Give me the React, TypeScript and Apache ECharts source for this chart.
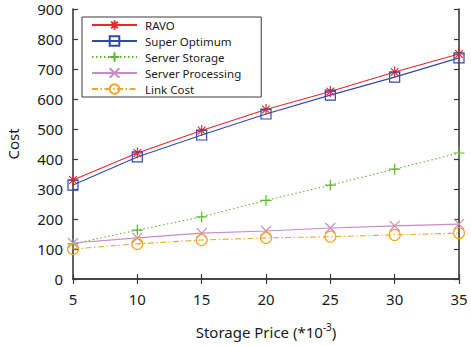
import React, { useEffect, useRef } from "react";
import * as echarts from "echarts";

const storagePrice = [5, 10, 15, 20, 25, 30, 35];
const ravo = [330, 420, 495, 565, 625, 690, 750];
const superOptimum = [313, 407, 480, 550, 613, 673, 737];
const serverStorage = [117, 163, 207, 262, 313, 366, 420];
const serverProcessing = [120, 137, 153, 160, 170, 177, 183];
const linkCost = [100, 117, 130, 137, 141, 147, 153];

const FONT = "Noto Sans";
const FRAME = "#3a3a3a";
const TXT = "#1a1a1a";

const STAR = "path://M0,5L10,5M5,0L5,10M1.5,1.5L8.5,8.5M1.5,8.5L8.5,1.5";
const PLUS = "path://M0,5L10,5M5,0L5,10";
const CROSS = "path://M0,0L10,10M0,10L10,0";
const SQUARE = "path://M0,0L10,0L10,10L0,10Z";

function mk(name: string, ys: number[], color: string, symbol: string, size: number, lineType: any) {
  return {
    name,
    type: "line",
    data: storagePrice.map((x, i) => [x, ys[i]]),
    symbol,
    symbolSize: size,
    showAllSymbol: true,
    lineStyle: { color, width: 1.1, type: lineType },
    itemStyle: { color: "rgba(0,0,0,0)", borderColor: color, borderWidth: 1.2 },
    emphasis: { disabled: true },
    z: 3,
  };
}

export default function App() {
  const ref = useRef<HTMLDivElement>(null);
  useEffect(() => {
    document.body.style.margin = "0";
    const chart = echarts.init(ref.current!, null, { renderer: "svg" });
    const axisCommon = {
      axisLine: { show: true, lineStyle: { color: FRAME, width: 1.6 } },
      axisTick: { show: true, inside: true, length: 5, lineStyle: { color: FRAME, width: 1.2 } },
      splitLine: { show: false },
    };
    chart.setOption({
      animation: false,
      backgroundColor: "#fff",
      textStyle: { fontFamily: FONT },
      grid: { left: 73, right: 12, top: 9, bottom: 67, containLabel: false, outerBoundsMode: "none" },
      legend: {
        orient: "vertical",
        left: 82,
        top: 17,
        padding: [2, 20, 2, 9],
        itemGap: 4,
        itemWidth: 45,
        itemHeight: 12,
        borderColor: FRAME,
        borderWidth: 1,
        backgroundColor: "#fff",
        textStyle: { fontFamily: FONT, fontSize: 11.5, color: TXT, padding: [0, 0, 0, 3], lineHeight: 12 },
        data: ["RAVO", "Super Optimum", "Server Storage", "Server Processing", "Link Cost"],
      },
      xAxis: [
        {
          type: "value",
          min: 5,
          max: 35,
          interval: 5,
          position: "bottom",
          ...axisCommon,
          axisLabel: { fontFamily: FONT, fontSize: 15, color: TXT, margin: 12 },
          name: "Storage Price (*10{sup|-3})",
          nameLocation: "middle",
          nameGap: 43,
          nameTextStyle: {
            fontFamily: FONT,
            fontSize: 15,
            color: TXT,
            rich: { sup: { fontFamily: FONT, fontSize: 10, color: TXT, padding: [0, 0, 10, 0] } },
          },
        },
        {
          type: "value",
          min: 5,
          max: 35,
          interval: 5,
          position: "top",
          ...axisCommon,
          axisLabel: { show: false },
        },
      ],
      yAxis: [
        {
          type: "value",
          min: 0,
          max: 900,
          interval: 100,
          position: "left",
          ...axisCommon,
          axisLabel: { fontFamily: FONT, fontSize: 15, color: TXT, margin: 10 },
          name: "Cost",
          nameLocation: "middle",
          nameGap: 53,
          nameTextStyle: { fontFamily: FONT, fontSize: 15, color: TXT },
        },
        {
          type: "value",
          min: 0,
          max: 900,
          interval: 100,
          position: "right",
          ...axisCommon,
          axisLabel: { show: false },
        },
      ],
      series: [
        mk("RAVO", ravo, "#e8282c", STAR, 11, "solid"),
        mk("Super Optimum", superOptimum, "#2f4aa6", SQUARE, 10, "solid"),
        mk("Server Storage", serverStorage, "#5cb82e", PLUS, 11, [1.5, 2.5]),
        mk("Server Processing", serverProcessing, "#c88ac8", CROSS, 10, "solid"),
        mk("Link Cost", linkCost, "#f5a524", "circle", 11, [6, 2.5, 1.5, 2.5]),
      ],
    });
    return () => chart.dispose();
  }, []);
  return <div ref={ref} style={{ position: "absolute", left: 0, top: 0, width: 471, height: 346 }} />;
}
